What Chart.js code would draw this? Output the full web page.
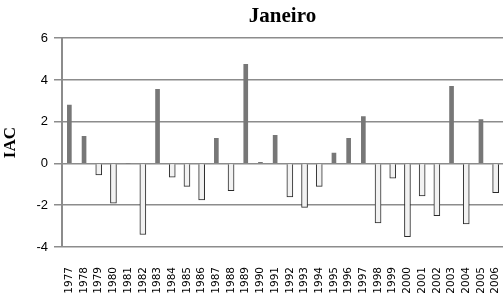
<!DOCTYPE html>
<html>
<head>
<meta charset="utf-8">
<script src="https://cdn.jsdelivr.net/npm/chart.js@4"></script>
<style>
  html, body { margin: 0; padding: 0; background: #fff; }
  #wrap { width: 503px; height: 302px; }
</style>
</head>
<body>
<div id="wrap"><canvas id="myChart" width="503" height="302"></canvas></div>
<script>
// IAC de janeiro, 1977-2006
const years = ["1977","1978","1979","1980","1981","1982","1983","1984","1985","1986",
  "1987","1988","1989","1990","1991","1992","1993","1994","1995","1996",
  "1997","1998","1999","2000","2001","2002","2003","2004","2005","2006"]
const iac = [2.8, 1.3, -0.55, -1.9, 0, -3.4, 3.55, -0.65, -1.1, -1.75,
  1.2, -1.3, 4.75, 0.05, 1.35, -1.6, -2.1, -1.1, 0.5, 1.2,
  2.25, -2.85, -0.7, -3.5, -1.55, -2.5, 3.7, -2.9, 2.1, -1.4]
const yTicks = [-4, -2, 0, 2, 4, 6]

// positive and negative bars drawn differently
const pos = iac.map(v => v >= 0 ? v : null)
const neg = iac.map(v => v < 0 ? v : null)

const ctx = document.getElementById("myChart")

new Chart(ctx, {
  type: "bar",
  data: {
    labels: years,
    datasets: [
      {
        label: "pos",
        data: pos,
        barThickness: 4,
        backgroundColor: "#777777",
        borderWidth: 0,
      },
      {
        label: "neg",
        data: neg,
        barThickness: 6,
        backgroundColor: "#f2f2f2",
        borderColor: "#2a2a2a",
        borderWidth: 1,
      },
    ],
  },
  options: {
    responsive: false,
    animation: false,
    layout: { padding: { right: 0 } },
    plugins: {
      legend: { display: false },
      tooltip: { enabled: false },
      title: {
        display: true,
        fullSize: false,
        text: "Janeiro",
        color: "#000",
        font: { family: "Liberation Serif", size: 21, weight: "bold" },
        padding: { top: 4, bottom: 9 },
      },
    },
    scales: {
      x: {
        stacked: true,
        offset: true,
        grid: { display: false, drawTicks: false },
        border: { display: false },
        ticks: {
          autoSkip: false,
          minRotation: 90,
          maxRotation: 90,
          padding: 20,
          color: "#000",
          font: { family: "DejaVu Sans", size: 10.5 },
        },
        afterFit: s => {
          s.height = 55
          s.paddingLeft = 0
          s.paddingRight = 0
        },
      },
      y: {
        stacked: true,
        min: -4,
        max: 6,
        afterBuildTicks: s => { s.ticks = yTicks.map(v => ({ value: v })) },
        grid: { color: "#8c8c8c", lineWidth: 1.5, tickLength: 8 },
        border: { display: true, color: "#8c8c8c", width: 2 },
        ticks: {
          padding: 6,
          color: "#000",
          font: { family: "Liberation Sans", size: 13 },
        },
        title: {
          display: true,
          text: "IAC",
          color: "#000",
          font: { family: "Liberation Serif", size: 17, weight: "bold" },
          padding: { top: 0, bottom: 2 },
        },
        afterFit: s => { s.width = 62 },
      },
    },
  },
})
</script>
</body>
</html>
